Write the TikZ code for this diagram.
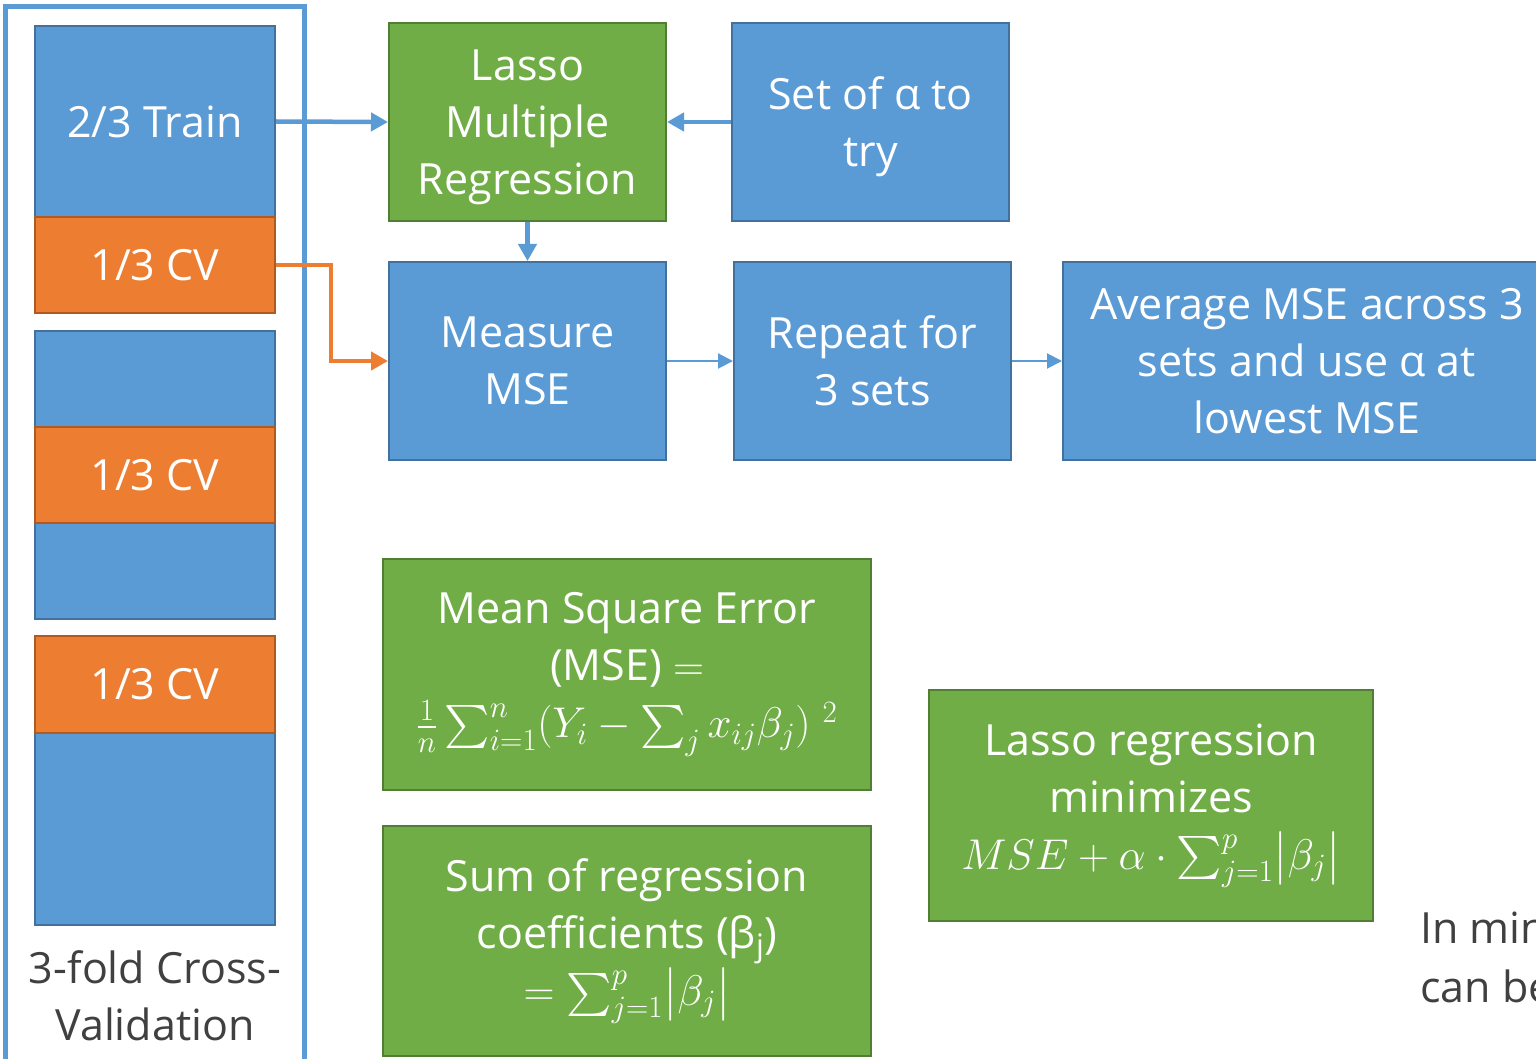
\RequirePackage{fix-cm}
\documentclass[tikz,border=0pt]{standalone}
\usepackage{amsmath}
\DeclareFontShape{OMX}{cmex}{m}{n}{<->cmex10}{}
\usepackage{fontspec}
\setmainfont{Open Sans}
\usetikzlibrary{arrows.meta}
\DeclareMathSizes{43}{43}{31}{24}
\definecolor{cblue}{HTML}{5B9BD5}
\definecolor{cbluedk}{HTML}{41719C}
\definecolor{cgreen}{HTML}{70AD47}
\definecolor{cgreendk}{HTML}{507E32}
\definecolor{corange}{HTML}{ED7D31}
\definecolor{corangedk}{HTML}{AE5A21}
\definecolor{cgray}{HTML}{404040}
\newcommand\bigtxt{\fontsize{43}{57}\selectfont}
\newcommand\nodepth[1]{\raisebox{0pt}[\height][0pt]{#1}}
\begin{document}
\begin{tikzpicture}[x=1pt,y=-1pt,
  box/.style={rectangle, line width=2pt, inner sep=0pt, text=white, align=center, font=\bigtxt},
  bluebox/.style={box, fill=cblue, draw=cbluedk},
  greenbox/.style={box, fill=cgreen, draw=cgreendk},
  orangebox/.style={box, fill=corange, draw=corangedk},
  fold/.style={minimum width=240pt},
  bigarrow/.style={line width=4.5pt, -{Triangle[length=17pt,width=18pt]}},
  smallarrow/.style={line width=2pt, cblue, -{Triangle[length=15pt,width=15pt]}},
  graytext/.style={text=cgray, font=\bigtxt, inner sep=0pt},
]
\useasboundingbox (0,0) rectangle (1536,1059);
\clip (0,0) rectangle (1536,1059);
\fill[white] (0,0) rectangle (1536,1059);

% left column folds
\node[bluebox, fold, minimum height=191pt] (train) at (155,121.5) {2/3 Train};
\node[bluebox, fold, minimum height=96pt] (fa) at (155,379) {};
\node[bluebox, fold, minimum height=96pt] (fb) at (155,571) {};
\node[bluebox, fold, minimum height=192pt] (fc) at (155,829) {};
\node[orangebox, fold, minimum height=96pt] (cva) at (155,265) {1/3 CV};
\node[orangebox, fold, minimum height=96pt] (cvb) at (155,475) {1/3 CV};
\node[orangebox, fold, minimum height=97pt] (cvc) at (155,684.5) {1/3 CV};

% frame
\draw[cblue, line width=5pt] (5.5,1080) -- (5.5,6.5) -- (304,6.5) -- (304,1080);
\node[graytext, anchor=base] (cvlabela) at (155,983) {3-fold Cross-};
\node[graytext, anchor=base] (cvlabelb) at (155,1040) {Validation};

% process boxes
\node[greenbox, minimum width=277pt, minimum height=198pt] (lasso) at (527.5,122) {Lasso\\Multiple\\\nodepth{Regression}};
\node[bluebox, minimum width=277pt, minimum height=198pt] (alpha) at (870.5,122) {Set of α to\\\nodepth{try}};
\node[bluebox, minimum width=277pt, minimum height=198pt] (mse) at (527.5,361) {Measure\\MSE};
\node[bluebox, minimum width=277pt, minimum height=198pt] (repeat) at (872.5,361) {Repeat for\\3 sets};
\node[bluebox, minimum width=488pt, minimum height=198pt] (avg) at (1307,361) {Average MSE across 3\\sets and use α at\\lowest MSE};

% definition boxes
\node[greenbox, minimum width=488pt, minimum height=231pt] (msedef) at (627,674.5)
  {Mean Square Error\\(MSE) $=$\\$\frac{1}{n}\sum_{i=1}^{n}(Y_i-\sum_j x_{ij}\beta_j)\;{}^{2}$};
\node[greenbox, minimum width=488pt, minimum height=230pt] (sumdef) at (627,941)
  {Sum of regression\\coefficients (β\textsubscript{j})\\$=\sum_{j=1}^{p}\bigl|\beta_j\bigr|$};
\node[greenbox, minimum width=444pt, minimum height=231pt] (lassomin) at (1151,805.5)
  {Lasso regression\\minimizes\\$MSE+\alpha\cdot\sum_{j=1}^{p}\bigl|\beta_j\bigr|$};

% cut-off note
\node[graytext, anchor=base west] (inmin) at (1420,943) {In min};
\node[graytext, anchor=base west] (canbe) at (1420,1002) {can be};

% connectors
\draw[bigarrow, cblue] (train.east) -- (lasso.west);
\draw[bigarrow, cblue] (alpha.west) -- (lasso.east);
\draw[bigarrow, cblue] (lasso.south) -- (mse.north);
\coordinate (bend) at (331,265);
\draw[bigarrow, corange] (cva.east) -- (bend) |- (mse.west);
\draw[smallarrow] (mse.east) -- (repeat.west);
\draw[smallarrow] (repeat.east) -- (avg.west);
\end{tikzpicture}
\end{document}
